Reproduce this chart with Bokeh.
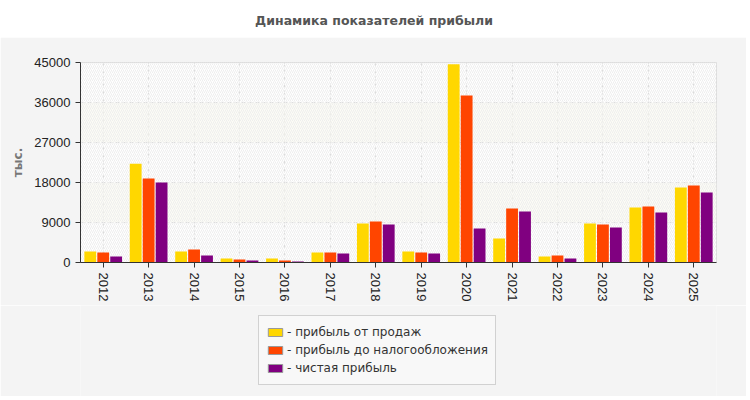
from bokeh.plotting import figure
from bokeh.models import FactorRange, Range1d, Legend, LegendItem, FixedTicker, BoxAnnotation
from bokeh.layouts import column
from bokeh.transform import dodge
from bokeh.core.properties import value
from bokeh.embed import file_html
from bokeh.resources import INLINE

# data
years = ["2012", "2013", "2014", "2015", "2016", "2017", "2018",
         "2019", "2020", "2021", "2022", "2023", "2024", "2025"]
sales_profit = [2500, 22200, 2500, 900, 900, 2250, 8800,
                2500, 44600, 5400, 1350, 8800, 12400, 16900]
pretax_profit = [2250, 18900, 2900, 700, 450, 2250, 9200,
                 2250, 37600, 12150, 1600, 8550, 12600, 17300]
net_profit = [1350, 18000, 1600, 450, 250, 2050, 8550,
              2050, 7650, 11500, 900, 7900, 11250, 15750]
y_ticks = [0, 9000, 18000, 27000, 36000, 45000]

series_names = ["- прибыль от продаж", "- прибыль до налогообложения", "- чистая прибыль"]
series_colors = ["#FFD700", "#FF4500", "#800080"]
title_text = "Динамика показателей прибыли"
y_label = "тыс."

W = 746
GREY = "#f4f4f4"

# header strip with the title (white, above the grey panel)
head = figure(width=W, height=37, x_range=Range1d(0, 1), y_range=Range1d(0, 1),
              x_axis_type=None, y_axis_type=None, toolbar_location=None,
              output_backend="svg", min_border_left=80, min_border_right=30,
              min_border_top=0, min_border_bottom=0)
head.grid.visible = False
head.outline_line_color = None
head.text(x=[0.4615], y=[0.46], text=[title_text], text_align="center", text_baseline="middle",
          text_font=value("DejaVu Sans"), text_font_size="12.5px", text_font_style="bold",
          text_color="#555555")

source = dict(years=years, s=sales_profit, t=pretax_profit, n=net_profit)

p = figure(width=W, height=268, x_range=FactorRange(*years, range_padding=0),
           y_range=Range1d(0, 45000), toolbar_location=None, output_backend="svg",
           min_border_left=80, min_border_right=30, min_border_top=25, min_border_bottom=43)
p.border_fill_color = GREY
p.background_fill_color = "#ffffff"
p.outline_line_color = "#dddddd"

# fine diagonal hatch over the plot area
p.add_layout(BoxAnnotation(fill_alpha=0, line_alpha=0, hatch_pattern="right_diagonal_line",
                           hatch_color="#eeeeee", hatch_scale=4, hatch_weight=1, level="underlay"))

offsets = [-0.285, 0, 0.285]
bar_w = 0.26
for col, off, color in zip(["s", "t", "n"], offsets, series_colors):
    p.vbar(x=dodge("years", off, range=p.x_range), top=col, width=bar_w, source=source,
           fill_color=color, line_color=None)

p.yaxis.ticker = FixedTicker(ticks=y_ticks)
p.yaxis.axis_label = y_label
p.yaxis.axis_label_text_font = "DejaVu Sans"
p.yaxis.axis_label_text_font_size = "12px"
p.yaxis.axis_label_text_font_style = "bold"
p.yaxis.axis_label_text_color = "#777777"
p.yaxis.axis_label_standoff = 6
p.yaxis.minor_tick_line_color = None

p.axis.axis_line_color = "#333333"
p.axis.major_tick_line_color = "#333333"
p.axis.major_tick_in = 0
p.axis.major_tick_out = 5
p.axis.major_label_text_font = "Liberation Sans"
p.axis.major_label_text_font_size = "13px"
p.axis.major_label_text_color = "#222222"
p.xaxis.major_label_orientation = "vertical"

p.grid.grid_line_color = "#dddddd"
p.grid.grid_line_dash = "4 3"
p.ygrid.band_fill_color = "#fafaee"
p.ygrid.band_fill_alpha = 0.6

# bottom part of the grey panel holding the legend
leg = figure(width=W, height=91, x_range=Range1d(0, 1), y_range=Range1d(0, 1),
             x_axis_type=None, y_axis_type=None, toolbar_location=None,
             output_backend="svg", min_border_left=80, min_border_right=30,
             min_border_top=0, min_border_bottom=0)
leg.grid.visible = False
leg.outline_line_color = None
leg.background_fill_color = GREY
leg.border_fill_color = GREY

# swatch renderers, hidden behind the legend box
items = []
for name, color in zip(series_names, series_colors):
    r = leg.vbar(x=[0.4], top=[0.6], bottom=[0.4], width=0.01, fill_color=color, line_color="#999999")
    items.append(LegendItem(label=name, renderers=[r]))

legend = Legend(items=items, location=(178, 11), orientation="vertical")
legend.label_text_font = "DejaVu Sans"
legend.label_text_font_size = "12px"
legend.label_text_color = "#333333"
legend.glyph_width = 18
legend.glyph_height = 10
legend.label_height = 18
legend.label_standoff = 3
legend.spacing = 0
legend.padding = 7
legend.margin = 0
legend.border_line_color = "#aaaaaa"
legend.background_fill_color = "#f8f8f8"
legend.background_fill_alpha = 1
leg.add_layout(legend, "center")

layout = column(head, p, leg, spacing=0)
open("out.html", "w").write(file_html(layout, INLINE))
